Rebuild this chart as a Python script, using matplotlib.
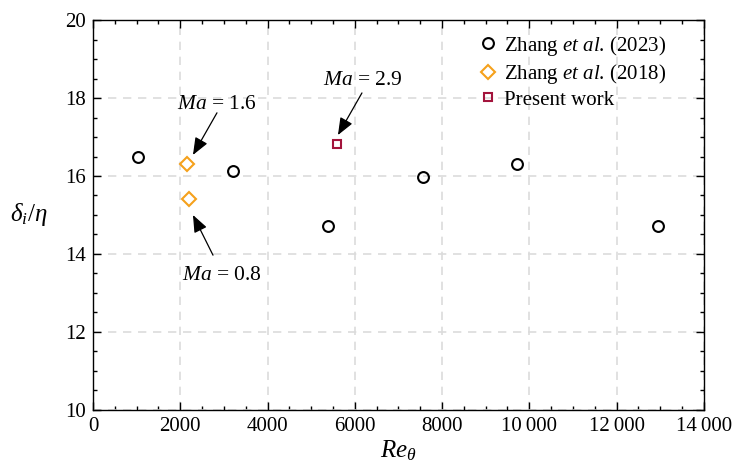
import matplotlib
matplotlib.use('Agg')
import matplotlib.pyplot as plt
from matplotlib.ticker import MultipleLocator, FuncFormatter

plt.rcParams['font.family'] = ['Liberation Serif', 'DejaVu Serif']
plt.rcParams['mathtext.fontset'] = 'custom'
plt.rcParams['mathtext.rm'] = 'Liberation Serif'
plt.rcParams['mathtext.it'] = 'Liberation Serif:italic'

# Zhang et al. (2023)
re_2023 = [1030, 3200, 5390, 7555, 9710, 12950]
d_2023 = [16.5, 16.14, 14.72, 15.98, 16.3, 14.72]

# Zhang et al. (2018)
re_2018 = [2160, 2200]
d_2018 = [16.32, 15.4]

# Present work
re_present = [5590]
d_present = [16.81]

# Mach number labels: text, arrow tip, arrow tail, text position
ma_labels = ['$Ma$ = 1.6', '$Ma$ = 0.8', '$Ma$ = 2.9']
ma_tips = [(2291, 16.54), (2291, 15.0), (5614, 17.05)]
ma_tails = [(2841, 17.62), (2750, 13.97), (6164, 18.13)]
ma_text = [(2840, 17.83), (2960, 13.44), (6190, 18.46)]

fig = plt.figure(figsize=(7.37, 4.72), dpi=100)
ax = fig.add_axes([0.1262, 0.1314, 0.8288, 0.8262])

ax.plot(re_2023, d_2023, 'o', mfc='none', mec='black', ms=7.8, mew=1.5,
        label='Zhang $et\\ al$. (2023)', zorder=3)
ax.plot(re_2018, d_2018, 'D', mfc='none', mec='#f5a11c', ms=7.2, mew=1.5,
        label='Zhang $et\\ al$. (2018)', zorder=3)
ax.plot(re_present, d_present, 's', mfc='none', mec='#a3143c', ms=5.6, mew=1.5,
        label='Present work', zorder=3)

ax.set_xlim(0, 14000)
ax.set_ylim(10, 20)
ax.xaxis.set_major_locator(MultipleLocator(2000))
ax.xaxis.set_minor_locator(MultipleLocator(500))
ax.yaxis.set_major_locator(MultipleLocator(2))
ax.yaxis.set_minor_locator(MultipleLocator(0.5))


def fmt(v, pos):
    v = int(round(v))
    if v >= 10000:
        return '{:,}'.format(v).replace(',', '\u2009')
    return str(v)


ax.xaxis.set_major_formatter(FuncFormatter(fmt))
ax.tick_params(which='both', direction='in', top=True, right=True, labelsize=15)
ax.tick_params(which='major', length=6, width=1, pad=5)
ax.tick_params(which='minor', length=3, width=1)
for s in ax.spines.values():
    s.set_linewidth(1)

ax.grid(True, which='major', color='#dcdcdc', linestyle=(0, (5, 4)), linewidth=1.2)
ax.set_axisbelow(True)

ax.set_xlabel('$Re_{\\theta}$', fontsize=18, labelpad=2)
ax.set_ylabel('$\\delta_i/\\eta$', fontsize=18, rotation=0, ha='center', va='center')
ax.yaxis.set_label_coords(-0.106, 0.5)

arrow = dict(arrowstyle='-|>,head_length=0.7,head_width=0.28', color='black',
             lw=0.9, mutation_scale=15, shrinkA=0, shrinkB=0)
for lab, tip, tail, pos in zip(ma_labels, ma_tips, ma_tails, ma_text):
    ax.annotate('', xy=tip, xytext=tail, arrowprops=arrow)
    ax.text(pos[0], pos[1], lab, ha='center', va='center', fontsize=15.5)

ax.legend(loc='upper left', bbox_to_anchor=(0.629, 0.965), frameon=False,
          fontsize=15, handletextpad=0.3, borderaxespad=0, borderpad=0,
          labelspacing=0.2, handlelength=1.0)

fig.savefig('out.png', dpi=100)
